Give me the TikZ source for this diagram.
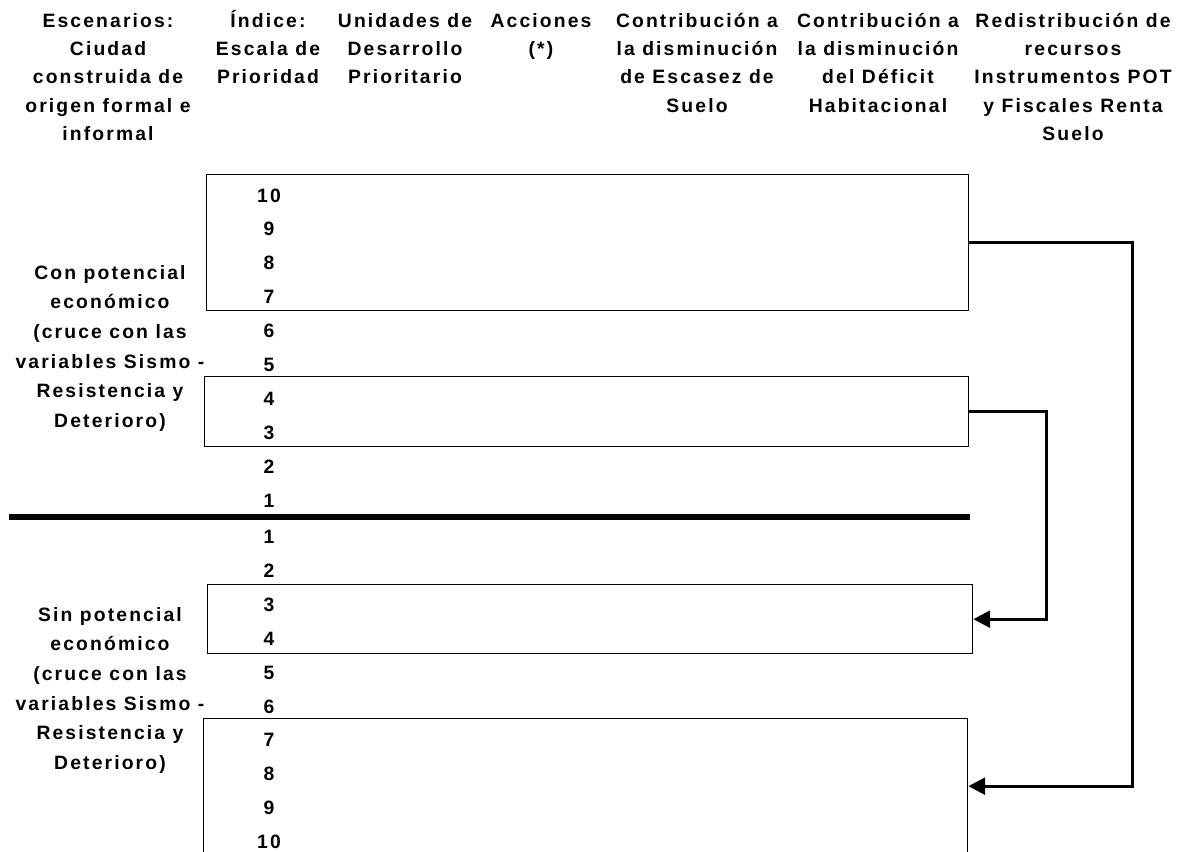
\documentclass[tikz,border=0pt]{standalone}
\usepackage{fontspec}
\setmainfont{Liberation Sans}[LetterSpace=11]
\usetikzlibrary{arrows.meta}

\begin{document}
\begin{tikzpicture}[x=0.75pt, y=-0.75pt,
  headtext/.style={font=\fontsize{14.5}{21.2}\selectfont\bfseries, align=center, inner sep=0pt, anchor=north},
  sidetext/.style={font=\fontsize{14.5}{22.2}\selectfont\bfseries, align=center, inner sep=0pt, anchor=north},
  numtext/.style={font=\fontsize{14.5}{16}\selectfont\bfseries, inner sep=0pt, anchor=base},
  band/.style={draw, line width=1pt, rectangle, inner sep=0pt, anchor=north west},
  link/.style={line width=2.25pt, -{Triangle[length=12.5pt, width=12.5pt]}, line join=miter},
  divider/.style={line width=4.5pt}
]
\useasboundingbox (0,0) rectangle (1185,851);

% column headings (first baseline at y = 27)
\node[headtext] (h1) at (108, 7.2) {\strut Escenarios:\\Ciudad\\construida de\\origen formal e\\informal};
\node[headtext] (h2) at (268, 7.2) {\strut Índice:\\Escala de\\Prioridad};
\node[headtext] (h3) at (405, 7.2) {\strut Unidades de\\Desarrollo\\Prioritario};
\node[headtext] (h4) at (541, 7.2) {\strut Acciones\\(*)};
\node[headtext] (h5) at (697, 7.2) {\strut Contribución a\\la disminución\\de Escasez de\\Suelo};
\node[headtext] (h6) at (878, 7.2) {\strut Contribución a\\la disminución\\del Déficit\\Habitacional};
\node[headtext] (h7) at (1073, 7.2) {\strut Redistribución de\\recursos\\Instrumentos POT\\y Fiscales Renta\\Suelo};

% scenario labels
\node[sidetext] (s1) at (110, 258.3) {\strut Con potencial\\económico\\(cruce con las\\variables Sismo -\\Resistencia y\\Deterioro)};
\node[sidetext] (s2) at (110, 600.3) {\strut Sin potencial\\económico\\(cruce con las\\variables Sismo -\\Resistencia y\\Deterioro)};

% priority scale, upper block 10 ... 1
\foreach \v [count=\k from 0] in {10,9,8,7,6,5,4,3,2,1}
  \node[numtext] (u\v) at (269, {202 + 33.9*\k}) {\v};
% priority scale, lower block 1 ... 10
\foreach \v [count=\k from 0] in {1,2,3,4,5,6,7,8,9,10}
  \node[numtext] (l\v) at (269, {543.5 + 33.9*\k}) {\v};

% dividing line between the two scenarios
\coordinate (dl) at (9, 517);
\coordinate (dr) at (970, 517);
\draw[divider] (dl) -- (dr);

% grouping boxes
\node[band, minimum width=762*0.75pt, minimum height=136*0.75pt] (b1) at (206, 174) {};
\node[band, minimum width=764*0.75pt, minimum height=70*0.75pt]  (b2) at (204, 376) {};
\node[band, minimum width=765*0.75pt, minimum height=69*0.75pt]  (b3) at (207, 584) {};
\node[band, minimum width=764*0.75pt, minimum height=135*0.75pt] (b4) at (203, 718) {};

% redistribution links
\coordinate (r1) at (1132, 0);
\coordinate (r2) at (1046, 0);
\draw[link] (b1.east) -- (b1.east -| r1) |- (b4.east);
\draw[link] (b2.east) -- (b2.east -| r2) |- (b3.east);
\end{tikzpicture}
\end{document}
